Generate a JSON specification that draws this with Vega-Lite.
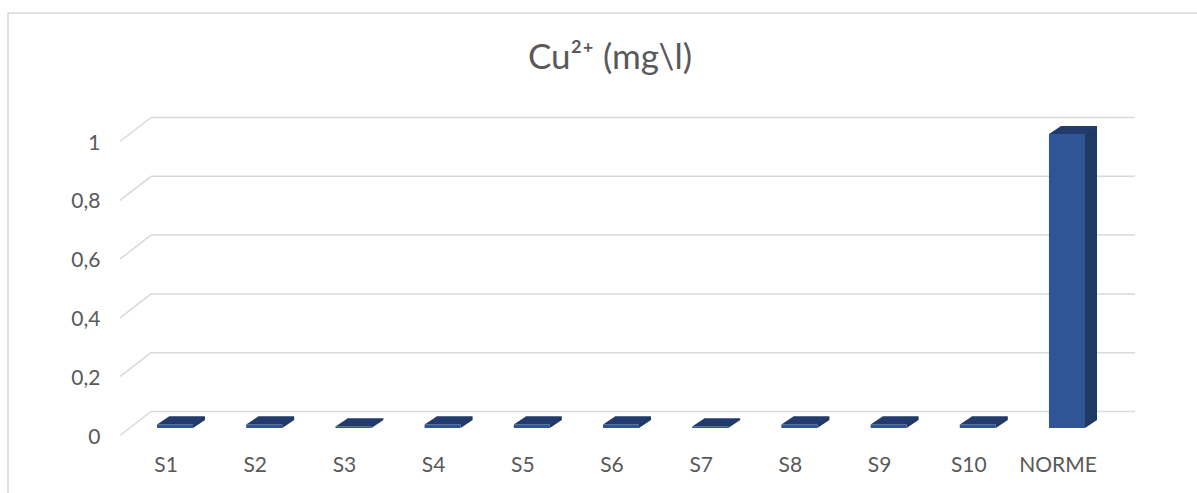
{
  "$schema": "https://vega.github.io/schema/vega-lite/v6.json",
  "width": 984,
  "height": 294,
  "autosize": {"type": "none"},
  "padding": {"left": 151, "top": 134, "right": 62, "bottom": 65},
  "background": "#ffffff",
  "config": {"view": {"stroke": null}, "font": "Lato"},
  "title": {
    "text": "Cu²⁺ (mg\\l)",
    "font": "Lato",
    "fontSize": 35,
    "fontWeight": "normal",
    "color": "#595959",
    "anchor": "middle",
    "baseline": "alphabetic",
    "offset": 0,
    "dx": -33,
    "dy": 92
  },
  "datasets": {
    "cu": [
      {"site": "S1", "v": 0.012},
      {"site": "S2", "v": 0.012},
      {"site": "S3", "v": 0.005},
      {"site": "S4", "v": 0.012},
      {"site": "S5", "v": 0.012},
      {"site": "S6", "v": 0.012},
      {"site": "S7", "v": 0.005},
      {"site": "S8", "v": 0.012},
      {"site": "S9", "v": 0.012},
      {"site": "S10", "v": 0.012},
      {"site": "NORME", "v": 1}
    ],
    "grid": [{"t": 0}, {"t": 0.2}, {"t": 0.4}, {"t": 0.6}, {"t": 0.8}, {"t": 1}]
  },
  "layer": [
    {
      "data": {"name": "grid"},
      "mark": {"type": "rule", "color": "#d9d9d9", "strokeWidth": 1.5, "yOffset": -16.5},
      "encoding": {
        "y": {"field": "t", "type": "quantitative", "scale": {"domain": [0, 1], "nice": false, "zero": true},
          "axis": {"values": [0, 0.2, 0.4, 0.6, 0.8, 1], "labelExpr": "replace(format(datum.value, '.1~f'), '.', ',')",
            "grid": false, "domain": false, "ticks": false, "labelPadding": 51, "labelOffset": 9,
            "labelFontSize": 21, "labelColor": "#595959", "labelFont": "Lato", "title": null}}
      }
    },
    {
      "data": {"name": "grid"},
      "mark": {"type": "rule", "color": "#d9d9d9", "strokeWidth": 1.5, "yOffset": 7.5, "y2Offset": -16.5},
      "encoding": {
        "x": {"value": -31},
        "x2": {"value": 0},
        "y": {"field": "t", "type": "quantitative"},
        "y2": {"field": "t"}
      }
    },
    {
      "data": {"name": "cu"},
      "layer": [
        {
          "mark": {"type": "bar", "color": "#203864", "xOffset": 12, "yOffset": -8, "y2Offset": -8},
          "encoding": {
            "x": {"field": "site", "type": "nominal", "sort": null,
              "scale": {"range": [6, 934], "paddingInner": 0.596, "paddingOuter": 0},
              "axis": {"domain": false, "ticks": false, "labelAngle": 0, "labelPadding": 26, "labelOffset": -9,
                "labelFontSize": 21, "labelColor": "#595959", "labelFont": "Lato", "title": null}},
            "y": {"field": "v", "type": "quantitative"}
          }
        },
        {
          "mark": {"type": "point", "shape": "M18,0 L30,-8 L18,-8 Z", "size": 4, "filled": true, "opacity": 1, "color": "#203864", "strokeWidth": 0},
          "encoding": {
            "x": {"field": "site", "type": "nominal", "sort": null},
            "y": {"datum": 0}
          }
        },
        {
          "mark": {"type": "bar", "color": "#2f5597"},
          "encoding": {
            "x": {"field": "site", "type": "nominal", "sort": null},
            "y": {"field": "v", "type": "quantitative"}
          }
        },
        {
          "mark": {"type": "point", "shape": "M-18,0 L18,0 L30,-8 L-6,-8 Z", "size": 4, "filled": true, "opacity": 1, "color": "#223b6c", "strokeWidth": 0},
          "encoding": {
            "x": {"field": "site", "type": "nominal", "sort": null},
            "y": {"field": "v", "type": "quantitative"}
          }
        }
      ]
    },
    {
      "data": {"values": [{"k": 1}]},
      "mark": {"type": "rect", "fill": null, "fillOpacity": 0, "stroke": "#d9d9d9", "strokeWidth": 1.5},
      "encoding": {
        "x": {"value": -143},
        "x2": {"value": 1100},
        "y": {"value": -121},
        "y2": {"value": 420}
      }
    }
  ]
}
